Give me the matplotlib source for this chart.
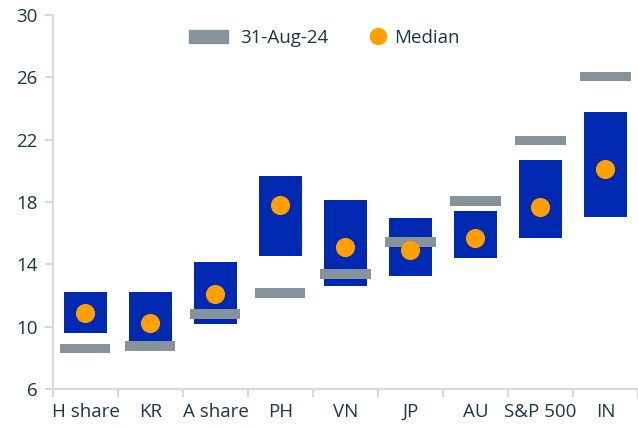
import numpy as np
from matplotlib import pyplot as plt
from matplotlib.patches import Patch
from matplotlib.lines import Line2D

# Values
categories = ["H share", "KR", "A share", "PH", "VN", "JP", "AU", "S&P 500", "IN"]
range_low = [9.6, 9.05, 10.2, 14.55, 12.6, 13.25, 14.4, 15.7, 17.05]
range_high = [12.2, 12.2, 14.15, 19.7, 18.1, 16.95, 17.4, 20.7, 23.8]
median = [10.9, 10.25, 12.1, 17.8, 15.1, 14.9, 15.7, 17.65, 20.15]
aug24 = [8.6, 8.75, 10.8, 12.15, 13.4, 15.45, 18.05, 21.95, 26.05]

BLUE = "#0029B2"
GREY = "#87939A"
ORANGE = "#FFA000"
TEXT = "#1B3647"
SPINE = "#D9D9D9"
FS = 13.5

plt.rcParams['font.family'] = ['Open Sans', 'DejaVu Sans']

fig = plt.figure(figsize=(6.38, 4.28), dpi=100)
ax = fig.add_axes([0.083, 0.091, 0.917, 0.874])

x = np.arange(len(categories))
low = np.array(range_low)
high = np.array(range_high)
ax.bar(x, high - low, bottom=low, width=0.66, color=BLUE, zorder=2)
ax.bar(x, 0.62, bottom=np.array(aug24) - 0.31, width=0.77, color=GREY, zorder=3)
ax.scatter(x, median, s=190, color=ORANGE, zorder=4, linewidths=0)

ax.set_xlim(-0.5, len(categories) - 0.5)
ax.set_ylim(6, 30)
ax.set_yticks(np.arange(6, 31, 4))
ax.set_xticks(x)
ax.set_xticklabels(categories)
ax.set_xticks(np.arange(-0.5, len(categories), 1), minor=True)
ax.tick_params(axis='x', which='major', length=0, pad=10, labelsize=FS, labelcolor=TEXT)
ax.tick_params(axis='x', which='minor', length=6, width=1.5, color=SPINE)
ax.tick_params(axis='y', length=6, width=1.5, color=SPINE, labelsize=FS, labelcolor=TEXT, pad=5)

for side in ['top', 'right']:
    ax.spines[side].set_visible(False)
for side in ['left', 'bottom']:
    ax.spines[side].set_color(SPINE)
    ax.spines[side].set_linewidth(1.5)

# two legend pieces so the dot sits close to its label like in the original
leg1 = ax.legend(handles=[Patch(color=GREY, label="31-Aug-24")], loc='center left',
                 bbox_to_anchor=(0.2325, 0.9385), frameon=False, fontsize=FS, labelcolor=TEXT,
                 handlelength=2.08, handleheight=0.7, handletextpad=0.64,
                 borderpad=0, borderaxespad=0)
ax.add_artist(leg1)
ax.legend(handles=[Line2D([], [], marker='o', ls='', color=ORANGE, markersize=11.5, label="Median")],
          loc='center left', bbox_to_anchor=(0.541, 0.9385), frameon=False, fontsize=FS,
          labelcolor=TEXT, handlelength=0.9, handletextpad=0.4, borderpad=0, borderaxespad=0)

fig.savefig("out.png", dpi=100)
